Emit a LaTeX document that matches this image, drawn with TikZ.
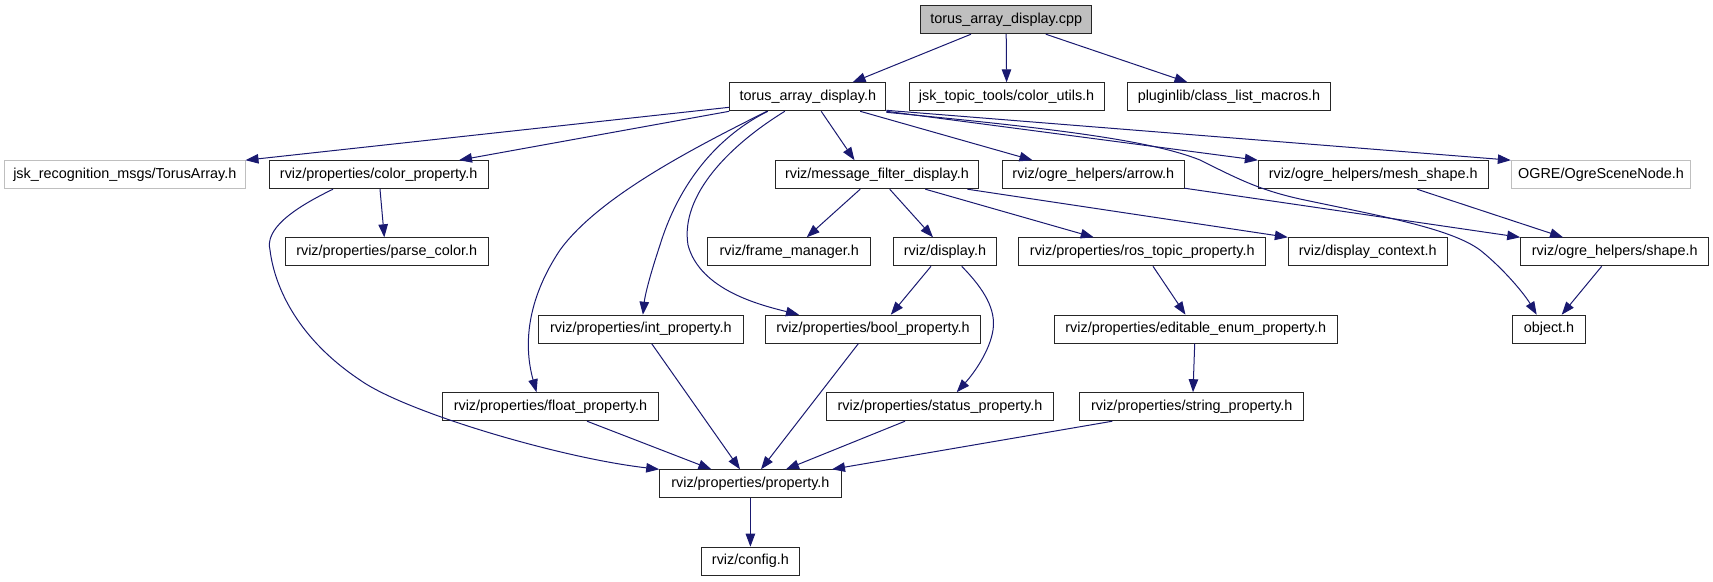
\documentclass[tikz,border=0pt]{standalone}
\usepackage{fontspec}
\setmainfont{Liberation Sans}
\usetikzlibrary{arrows.meta}
\definecolor{edgeblue}{HTML}{191970}
\definecolor{nodegray}{HTML}{BFBFBF}
\begin{document}
\begin{tikzpicture}[x=1pt,y=-1pt,
  box/.style={draw=black!85, line width=1pt, minimum height=28pt, inner sep=0pt,
    font=\fontsize{14.4}{16}\selectfont, text=black},
  graybox/.style={box, draw=nodegray},
  rootbox/.style={box, fill=nodegray},
  edge/.style={draw=edgeblue, line width=1pt, -{Triangle[length=13pt,width=9.5pt]}}]
\useasboundingbox (0,0) rectangle (1713,581);
% row 0
\node[rootbox, minimum width=171.1pt] (root) at (1006.2,19.7) {torus\_array\_display.cpp};
% row 1
\node[box, minimum width=156.2pt] (th) at (807.8,96.8) {torus\_array\_display.h};
\node[box, minimum width=194.8pt] (cu) at (1006.6,96.8) {jsk\_topic\_tools/color\_utils.h};
\node[box, minimum width=203.3pt] (pl) at (1229,96.8) {pluginlib/class\_list\_macros.h};
% row 2
\node[graybox, minimum width=240.4pt] (ta) at (124.8,174.7) {jsk\_recognition\_msgs/TorusArray.h};
\node[box, minimum width=219.3pt] (cp) at (378.7,174.7) {rviz/properties/color\_property.h};
\node[box, minimum width=203.2pt] (mf) at (876.9,174.7) {rviz/message\_filter\_display.h};
\node[box, minimum width=181.4pt] (ar) at (1093.3,174.7) {rviz/ogre\_helpers/arrow.h};
\node[box, minimum width=229.7pt] (ms) at (1373.2,174.7) {rviz/ogre\_helpers/mesh\_shape.h};
\node[graybox, minimum width=179.4pt] (og) at (1601,174.7) {OGRE/OgreSceneNode.h};
% row 3
\node[box, minimum width=203.3pt] (pc) at (386.7,251.8) {rviz/properties/parse\_color.h};
\node[box, minimum width=162.7pt] (fm) at (789.2,251.8) {rviz/frame\_manager.h};
\node[box, minimum width=103pt] (di) at (945,251.8) {rviz/display.h};
\node[box, minimum width=246.7pt] (rt) at (1142.3,251.8) {rviz/properties/ros\_topic\_property.h};
\node[box, minimum width=158.7pt] (dc) at (1367.7,251.8) {rviz/display\_context.h};
\node[box, minimum width=188pt] (sh) at (1614.7,251.8) {rviz/ogre\_helpers/shape.h};
% row 4
\node[box, minimum width=204.2pt] (ip) at (640.9,329.2) {rviz/properties/int\_property.h};
\node[box, minimum width=215.5pt] (bp) at (873,329.2) {rviz/properties/bool\_property.h};
\node[box, minimum width=282.7pt] (ee) at (1195.7,329.2) {rviz/properties/editable\_enum\_property.h};
\node[box, minimum width=73.4pt] (ob) at (1549,329.2) {object.h};
% row 5
\node[box, minimum width=216.2pt] (fp) at (550.5,406.7) {rviz/properties/float\_property.h};
\node[box, minimum width=227.6pt] (sp) at (940,406.7) {rviz/properties/status\_property.h};
\node[box, minimum width=223.8pt] (st) at (1191.8,406.7) {rviz/properties/string\_property.h};
% row 6
\node[box, minimum width=181.4pt] (pr) at (750.4,483.8) {rviz/properties/property.h};
% row 7
\node[box, minimum width=98.8pt] (cf) at (750.4,561.2) {rviz/config.h};

% edges from root
\draw[edge] ([xshift=-35.2pt]root.south) -- ([xshift=44.8pt]th.north);
\draw[edge] (root.south) -- (cu.north);
\draw[edge] ([xshift=39.6pt]root.south) -- ([xshift=-41.5pt]pl.north);
% edges from torus_array_display.h
\draw[edge] ([yshift=4pt]th.south west) -- (ta.north east);
\draw[edge] (th.south west) -- ([xshift=80.3pt]cp.north);
\draw[edge] ([xshift=-41pt]th.south) .. controls (700,145) and (600,195) .. (560,250)
  .. controls (530,295) and (522,340) .. ([xshift=-14pt]fp.north);
\draw[edge] ([xshift=-40pt]th.south) .. controls (720,135) and (680,180) .. (660,245)
  .. controls (650,275) and (645,295) .. ([xshift=2pt]ip.north);
\draw[edge] ([xshift=-23pt]th.south) .. controls (730,145) and (680,195) .. (688,245)
  .. controls (700,290) and (760,305) .. ([xshift=-74pt]bp.north);
\draw[edge] ([xshift=13.4pt]th.south) -- ([xshift=-22.4pt]mf.north);
\draw[edge] ([xshift=52.4pt]th.south) -- ([xshift=-60.8pt]ar.north);
\draw[edge] (th.south east) -- (ms.north west);
\draw[edge] ([yshift=1pt]th.south east) -- (og.north west);
\draw[edge] ([yshift=-1pt]th.south east) .. controls (1050,128) and (1150,140) .. (1200,160)
  .. controls (1240,180) and (1260,190) .. (1300,199)
  .. controls (1380,216) and (1450,228) .. (1480,250)
  .. controls (1505,270) and (1525,295) .. ([xshift=-12.3pt]ob.north);
% color_property
\draw[edge] ([xshift=1.3pt]cp.south) -- ([xshift=-2.4pt]pc.north);
\draw[edge] ([xshift=-45.7pt]cp.south) .. controls (290,210) and (265,230) .. (270,250)
  .. controls (275,290) and (300,340) .. (360,380)
  .. controls (405,412) and (560,458) .. (pr.north west);
% message_filter_display
\draw[edge] ([xshift=-16.7pt]mf.south) -- ([xshift=17.5pt]fm.north);
\draw[edge] ([xshift=12.8pt]mf.south) -- ([xshift=-12pt]di.north);
\draw[edge] ([xshift=48.4pt]mf.south) -- ([xshift=-48.6pt]rt.north);
\draw[edge] ([xshift=90.5pt]mf.south) -- (dc.north west);
% ogre helpers
\draw[edge] ([yshift=1pt]ar.south east) -- (sh.north west);
\draw[edge] ([xshift=43.8pt]ms.south) -- ([xshift=-51.7pt]sh.north);
\draw[edge] ([xshift=-13pt]sh.south) -- ([xshift=12.7pt]ob.north);
% display
\draw[edge] ([xshift=-14pt]di.south) -- ([xshift=17.8pt]bp.north);
\draw[edge] ([xshift=16.7pt]di.south) .. controls (985,290) and (996,310) .. (993,330)
  .. controls (990,350) and (975,372) .. ([xshift=16.7pt]sp.north);
% ros topic
\draw[edge] ([xshift=10.7pt]rt.south) -- ([xshift=-10.2pt]ee.north);
\draw[edge] ([xshift=-1pt]ee.south) -- ([xshift=1.2pt]st.north);
% to property.h
\draw[edge] ([xshift=10.8pt]ip.south) -- ([xshift=-10.4pt]pr.north);
\draw[edge] ([xshift=-14.7pt]bp.south) -- ([xshift=10.6pt]pr.north);
\draw[edge] ([xshift=36.5pt]fp.south) -- ([xshift=-39pt]pr.north);
\draw[edge] ([xshift=-35pt]sp.south) -- ([xshift=35.6pt]pr.north);
\draw[edge] ([xshift=-79.4pt]st.south) -- ([xshift=81.6pt]pr.north);
\draw[edge] (pr.south) -- (cf.north);
\end{tikzpicture}
\end{document}
